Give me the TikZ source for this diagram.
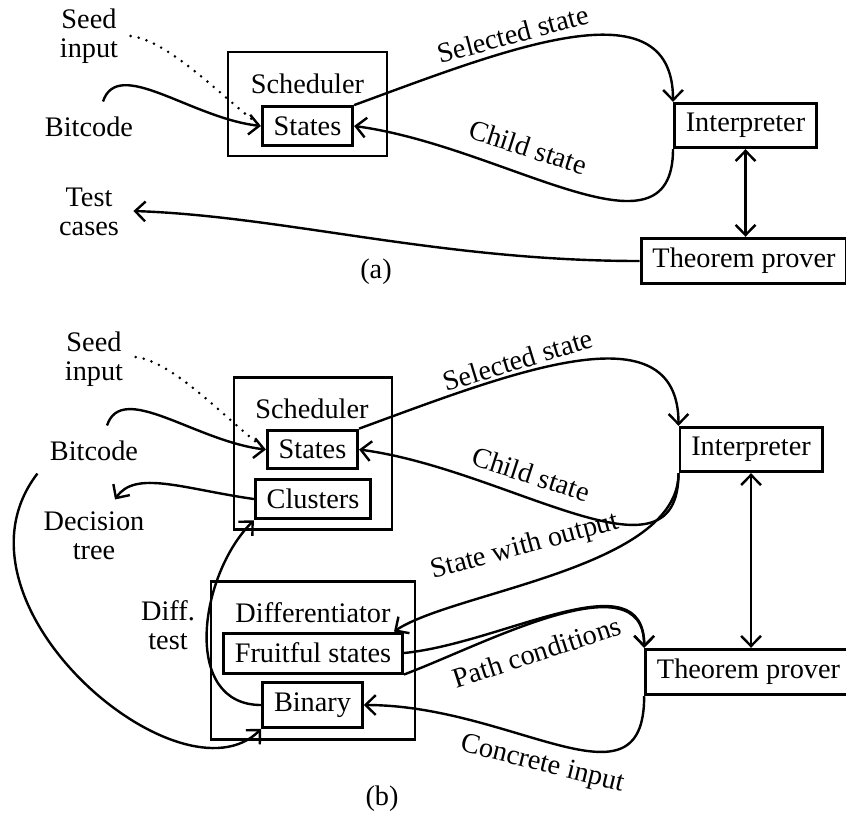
\documentclass[tikz,border=0pt]{standalone}
\usepackage{fontspec}
\setmainfont{Liberation Serif}
\usetikzlibrary{arrows.meta}
\newcommand\pxu{0.3534pt}
\begin{document}
\begin{tikzpicture}[x=0.3534pt, y=0.3534pt,
  font=\fontsize{10}{10.2}\selectfont,
  >={Straight Barb[length=3.6pt,width=7pt]},
  boxnode/.style={draw, line width=1.05pt, inner xsep=4pt, inner ysep=3.5pt},
  outerbox/.style={draw, line width=1.05pt, inner sep=0pt},
  lbl/.style={inner sep=0pt, align=center},
  conn/.style={line width=0.85pt, ->},
  dotline/.style={line width=1pt, line cap=round, dash pattern=on 0pt off 2.9pt}]
\useasboundingbox (0,0) rectangle (846,-814);

% ---------------- (a) ----------------
\node[lbl] (seed1) at (89,-36) {Seed\\input};
\node[lbl] (bc1) at (89,-127) {Bitcode};
\node[lbl] (tc1) at (89,-212) {Test\\cases};
\node[outerbox, minimum width=159*\pxu, minimum height=104*\pxu] (sch1) at (307.5,-104) {};
\node[lbl] (schl1) at (307.5,-84) {Scheduler};
\node[boxnode] (st1) at (307.5,-126) {States};
\node[boxnode] (in1) at (745.5,-125.5) {Interpreter};
\node[boxnode] (tp1) at (744,-261) {Theorem prover};
\node[lbl] (cap1) at (376,-272) {(a)};

\draw[dotline] ([shift={(12,0)}]seed1.east) .. controls +(40,-5) and +(-35,25) .. (st1.west);
\draw[conn] ([shift={(14,15)}]bc1.north) .. controls +(15,45) and +(-70,8) .. (st1.west);
\draw[conn] (st1.north east) .. controls +(150,55) and +(0,120) .. (in1.north west);
\draw[conn] (in1.south west) .. controls +(0,-120) and +(150,-20) .. (st1.east);
\draw[conn, <->] (in1.south) -- (in1.south |- tp1.north);
\draw[conn] (tp1.west) .. controls +(-200,0) and +(150,-5) .. ([shift={(14,1)}]tc1.east);

\node[lbl, rotate=15] (lss1) at (513,-34) {Selected state};
\node[lbl, rotate=-18] (lcs1) at (528,-147) {Child state};

% ---------------- (b) ----------------
\node[lbl] (seed2) at (94,-359) {Seed\\input};
\node[lbl] (bc2) at (94,-451) {Bitcode};
\node[lbl] (dt2) at (94,-536) {Decision\\tree};
\node[outerbox, minimum width=158*\pxu, minimum height=152*\pxu] (sch2) at (313,-453) {};
\node[lbl] (schl2) at (312,-409) {Scheduler};
\node[boxnode] (st2) at (312.5,-449.5) {States};
\node[boxnode] (cl2) at (313,-499) {Clusters};
\node[boxnode] (in2) at (751,-449.5) {Interpreter};
\node[boxnode] (tp2) at (748.5,-672) {Theorem prover};
\node[outerbox, minimum width=204*\pxu, minimum height=158*\pxu] (dif) at (313,-660) {};
\node[lbl] (difl) at (313,-612.5) {Differentiator};
\node[boxnode] (fr) at (313,-653) {Fruitful states};
\node[boxnode] (bi) at (312.5,-705) {Binary};
\node[lbl] (dtst) at (168,-625) {Diff.\\test};
\node[lbl] (cap2) at (382,-799) {(b)};

\draw[dotline] ([shift={(12,2)}]seed2.east) .. controls +(40,-5) and +(-35,25) .. (st2.west);
\draw[conn] ([shift={(13,15)}]bc2.north) .. controls +(15,45) and +(-70,8) .. (st2.west);
\draw[conn] (cl2.west) .. controls +(-70,10) and +(20,30) .. ([shift={(21,12)}]dt2.north);
\draw[conn] ([shift={(-12,-12)}]bc2.south west) .. controls +(-100,-130) and +(-80,-80) .. (bi.south west);
\draw[conn] (bi.west) .. controls +(-80,0) and +(-55,-55) .. (cl2.south west);
\draw[conn] (st2.north east) .. controls +(150,55) and +(0,120) .. (in2.north west);
\draw[conn] (in2.south west) .. controls +(0,-120) and +(150,-20) .. (st2.east);
\draw[conn] (in2.south west) .. controls +(0,-95) and +(60,40) .. ([shift={(-10,0)}]fr.north east);
\draw[conn] (fr.east) .. controls +(100,10) and +(0,90) .. (tp2.north west);
\draw[conn] (fr.south east) .. controls +(80,30) and +(0,90) .. (tp2.north west);
\draw[conn, <->] (in2.south) -- (in2.south |- tp2.north);
\draw[conn] (tp2.south west) .. controls +(0,-120) and +(150,0) .. (bi.east);

\node[lbl, rotate=17] (lss2) at (518,-360) {Selected state};
\node[lbl, rotate=-18] (lcs2) at (531,-474) {Child state};
\node[lbl, rotate=15] (lso) at (525,-547) {State with output};
\node[lbl, rotate=18] (lpc) at (537,-652) {Path conditions};
\node[lbl, rotate=-14] (lci) at (542,-765) {Concrete input};
\end{tikzpicture}
\end{document}
